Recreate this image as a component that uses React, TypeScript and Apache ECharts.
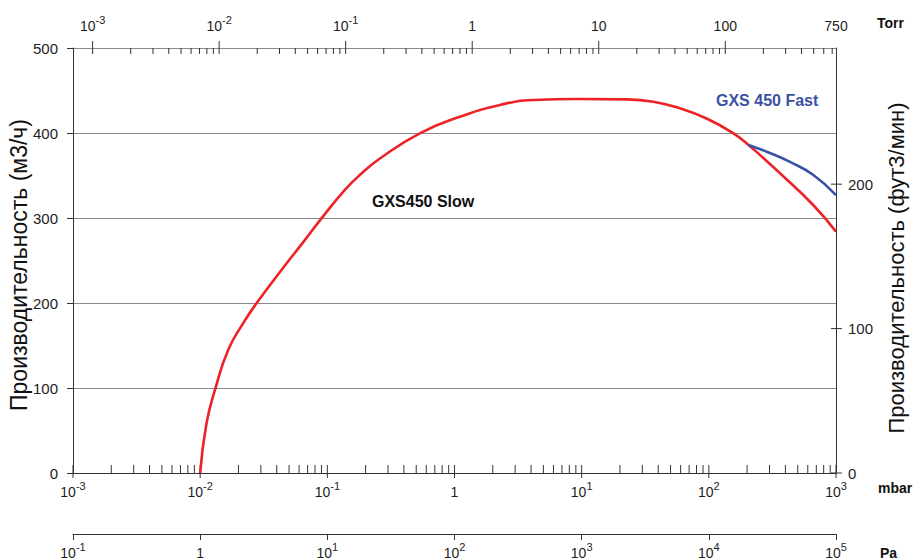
import React, { useEffect, useRef } from 'react';
import * as echarts from 'echarts';

// ---- data ----
const slowPressure = [0.01, 0.01122, 0.01318, 0.0166, 0.02175, 0.02774, 0.0436, 0.0665, 0.09, 0.1374, 0.18, 0.259, 0.534, 1.1, 2.28, 4.16, 9.14, 22.6, 36.6, 59.3, 96, 156, 205, 253, 363, 664, 1000];
const slowSpeed = [0, 58.5, 99.6, 144.7, 176, 199.6, 238.8, 274, 299.6, 333, 350.6, 370, 399.6, 419, 433, 438.8, 440, 439.6, 436.8, 429, 417, 399.6, 386, 374, 352.6, 315, 284];
const fastPressure = [205, 285, 435, 664, 1000];
const fastSpeed = [386, 378, 366, 350.6, 327];

const mbarExponents = [-3, -2, -1, 0, 1, 2, 3];
const torrExponents = [-3, -2, -1, 0, 1, 2];
const minorMultipliers = [2, 3, 4, 5, 6, 7, 8, 9];
const rightTicks = [0, 100, 200];

const M3H_TO_CFM = 0.588578;
const leftMax = 500;
const torrMin = 0.0007;
const torrMax = 750;

const FONT = '"Liberation Sans", Arial, Helvetica, sans-serif';
const TXT = '#1e1e1e';
const AXIS = '#333333';

const rich = {
  b: { fontSize: 14, lineHeight: 24, color: TXT, fontFamily: FONT },
  s: { fontSize: 11, lineHeight: 12, verticalAlign: 'top', color: TXT, fontFamily: FONT },
};

const expOf = (v: number) => {
  const e = Math.log10(v);
  const r = Math.round(e);
  return Math.abs(e - r) < 1e-6 ? r : null;
};
const powLabel = (v: number) => {
  const e = expOf(v);
  if (e === null) return '';
  if (e === 0) return '{b|1}';
  return '{b|10}{s|' + e + '}';
};
const torrLabel = (v: number) => {
  if (Math.abs(v - torrMax) < 1) return '{b|750}';
  const e = expOf(v);
  if (e === null) return '';
  if (e >= 0) return '{b|' + Math.round(Math.pow(10, e)) + '}';
  return '{b|10}{s|' + e + '}';
};

const bottomTicks: number[][] = [];
mbarExponents.forEach((e) => {
  bottomTicks.push([Math.pow(10, e), 0, 1]);
  if (e < 3) minorMultipliers.forEach((m) => bottomTicks.push([m * Math.pow(10, e), 0, 0]));
});
const topTicks: number[][] = [];
torrExponents.forEach((e) => {
  topTicks.push([Math.pow(10, e), leftMax, 1]);
  minorMultipliers.forEach((m) => {
    const v = m * Math.pow(10, e);
    if (v < torrMax) topTicks.push([v, leftMax, 0]);
  });
});

export default function App() {
  const ref = useRef<HTMLDivElement>(null);
  useEffect(() => {
    if (!ref.current) return;
    const chart = echarts.init(ref.current, undefined, { renderer: 'svg' });
    const tickStyle = { stroke: AXIS, lineWidth: 1 };
    const option: any = {
      animation: false,
      backgroundColor: '#ffffff',
      grid: { left: 73, right: 84, top: 48, bottom: 87, containLabel: false },
      xAxis: [
        {
          type: 'log', logBase: 10, min: 0.001, max: 1000, position: 'bottom',
          axisLine: { show: true, lineStyle: { color: AXIS, width: 1 } },
          axisTick: { show: false }, minorTick: { show: false },
          splitLine: { show: false },
          axisLabel: { formatter: powLabel, rich, margin: 7, hideOverlap: false },
        },
        {
          type: 'log', logBase: 10, min: torrMin, max: torrMax, position: 'top',
          axisLine: { show: true, lineStyle: { color: AXIS, width: 1 } },
          axisTick: { show: false }, minorTick: { show: false },
          splitLine: { show: false },
          axisLabel: { formatter: torrLabel, rich, margin: 10, showMinLabel: true, showMaxLabel: true },
        },
        {
          type: 'log', logBase: 10, min: 0.1, max: 100000, position: 'bottom', offset: 61,
          axisLine: { show: true, lineStyle: { color: AXIS, width: 1 } },
          axisTick: { show: true, inside: false, length: 6, lineStyle: { color: AXIS } },
          minorTick: { show: false },
          splitLine: { show: false },
          axisLabel: { formatter: powLabel, rich, margin: 7 },
        },
      ],
      yAxis: [
        {
          type: 'value', min: 0, max: leftMax, interval: 100, position: 'left',
          axisLine: { show: true, lineStyle: { color: AXIS, width: 1 } },
          axisTick: { show: true, inside: false, length: 6, lineStyle: { color: AXIS } },
          splitLine: { show: true, lineStyle: { color: '#8a8a8a', width: 1 } },
          axisLabel: { color: TXT, fontSize: 15, fontFamily: FONT, margin: 15 },
        },
        {
          type: 'value', min: 0, max: leftMax * M3H_TO_CFM, interval: 100, position: 'right',
          axisLine: { show: true, lineStyle: { color: AXIS, width: 1 } },
          axisTick: { show: false },
          splitLine: { show: false },
          axisLabel: {
            color: TXT, fontSize: 15, fontFamily: FONT, margin: 12,
            formatter: (v: number) => (Math.abs(v % 100) < 1e-6 ? String(v) : ''),
          },
        },
      ],
      series: [
        {
          name: 'GXS450 Slow', type: 'line', xAxisIndex: 0, yAxisIndex: 0,
          data: slowPressure.map((p, i) => [p, slowSpeed[i]]),
          showSymbol: false, symbol: 'none', smooth: 0.5,
          lineStyle: { color: '#ec2227', width: 2.6 }, z: 3,
        },
        {
          name: 'GXS 450 Fast', type: 'line', xAxisIndex: 0, yAxisIndex: 0,
          data: fastPressure.map((p, i) => [p, fastSpeed[i]]),
          showSymbol: false, symbol: 'none', smooth: 0.5,
          lineStyle: { color: '#3a52a3', width: 2.6 }, z: 4,
        },
        {
          type: 'custom', xAxisIndex: 0, yAxisIndex: 0, silent: true, clip: false,
          data: bottomTicks,
          renderItem: (_p: any, api: any) => {
            const pt = api.coord([api.value(0), api.value(1)]);
            const major = api.value(2) === 1;
            return { type: 'line', shape: { x1: pt[0], y1: pt[1] + (major ? 5 : 0), x2: pt[0], y2: pt[1] - 8 }, style: tickStyle };
          },
        },
        {
          type: 'custom', xAxisIndex: 1, yAxisIndex: 0, silent: true, clip: false,
          data: topTicks,
          renderItem: (_p: any, api: any) => {
            const pt = api.coord([api.value(0), api.value(1)]);
            const major = api.value(2) === 1;
            return { type: 'line', shape: { x1: pt[0], y1: pt[1] - (major ? 7 : 0), x2: pt[0], y2: pt[1] + 6 }, style: tickStyle };
          },
        },
        {
          type: 'custom', xAxisIndex: 0, yAxisIndex: 1, silent: true, clip: false,
          data: rightTicks.map((v) => [1000, v]),
          renderItem: (_p: any, api: any) => {
            const pt = api.coord([api.value(0), api.value(1)]);
            return { type: 'line', shape: { x1: pt[0] - 5, y1: pt[1], x2: pt[0] + 6, y2: pt[1] }, style: tickStyle };
          },
        },
      ],
      graphic: [
        {
          type: 'text', x: 19, y: 265, rotation: Math.PI / 2,
          style: { text: 'Производительность (м3/ч)', font: '23px ' + FONT, fill: '#111', align: 'center', verticalAlign: 'middle', textAlign: 'center', textVerticalAlign: 'middle' },
        },
        {
          type: 'text', x: 896, y: 268, rotation: Math.PI / 2,
          style: { text: 'Производительность (фут3/мин)', font: '22px ' + FONT, fill: '#111', align: 'center', verticalAlign: 'middle', textAlign: 'center', textVerticalAlign: 'middle' },
        },
        { type: 'text', x: 877, y: 23, style: { text: 'Torr', font: 'bold 14px ' + FONT, fill: '#111', verticalAlign: 'middle', textVerticalAlign: 'middle' } },
        { type: 'text', x: 878, y: 488, style: { text: 'mbar', font: 'bold 14px ' + FONT, fill: '#111', verticalAlign: 'middle', textVerticalAlign: 'middle' } },
        { type: 'text', x: 880, y: 553, style: { text: 'Pa', font: 'bold 14px ' + FONT, fill: '#111', verticalAlign: 'middle', textVerticalAlign: 'middle' } },
        { type: 'text', x: 372, y: 201, style: { text: 'GXS450 Slow', font: 'bold 16px ' + FONT, fill: '#111', verticalAlign: 'middle', textVerticalAlign: 'middle' } },
        { type: 'text', x: 716, y: 100, style: { text: 'GXS 450 Fast', font: 'bold 16px ' + FONT, fill: '#3a52a3', verticalAlign: 'middle', textVerticalAlign: 'middle' } },
      ],
    };
    chart.setOption(option);
    return () => chart.dispose();
  }, []);
  return (
    <div
      ref={ref}
      style={{ position: 'absolute', left: 0, top: 0, width: 920, height: 560, background: '#fff' }}
    />
  );
}
